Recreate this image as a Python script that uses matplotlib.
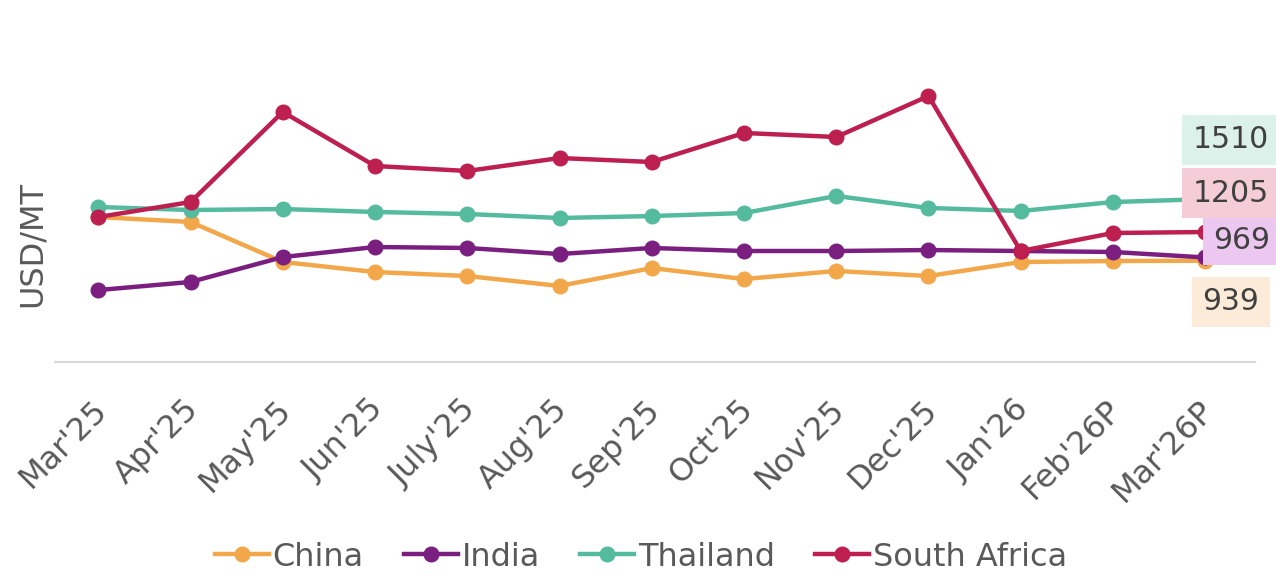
import matplotlib
matplotlib.use("Agg")
import matplotlib.pyplot as plt
from matplotlib.transforms import ScaledTranslation

months = ["Mar'25", "Apr'25", "May'25", "Jun'25", "July'25", "Aug'25", "Sep'25",
          "Oct'25", "Nov'25", "Dec'25", "Jan'26", "Feb'26P", "Mar'26P"]
china = [1344, 1298, 927, 834, 797, 705, 871, 769, 844, 797, 927, 936, 939]
india = [667, 742, 973, 1066, 1057, 1001, 1057, 1029, 1029, 1038, 1029, 1020, 969]
thailand = [1437, 1409, 1418, 1391, 1372, 1335, 1353, 1381, 1539, 1428, 1400, 1483, 1510]
south_africa = [1344, 1483, 2318, 1817, 1771, 1891, 1854, 2123, 2086, 2466, 1029, 1196, 1205]

series_names = ["China", "India", "Thailand", "South Africa"]
series_vals = [china, india, thailand, south_africa]
colors = ["#F2A84A", "#7A1F7F", "#55BB9F", "#BC1F50"]
label_bg = ["#FCEBD9", "#ECC8F0", "#DCF1EA", "#F5CDD9"]

W, H = 1276, 576
plt.rcParams['font.family'] = ['DejaVu Sans']
fig = plt.figure(figsize=(W / 100, H / 100), dpi=100)
ax = fig.add_axes([55 / W, 1 - 362 / H, 1200 / W, 323.6 / H])

x = list(range(len(months)))
handles = []
for name, vals, c in zip(series_names, series_vals, colors):
    h, = ax.plot(x, vals, color=c, lw=3.2, marker='o', markersize=10.5,
                 label=name, solid_joinstyle='round', clip_on=False)
    handles.append(h)

ax.set_xlim(-0.47, 12.54)
ax.set_ylim(0, 3000)
for s in ['top', 'right', 'left']:
    ax.spines[s].set_visible(False)
ax.spines['bottom'].set_color('#D9D9D9')
ax.spines['bottom'].set_linewidth(1.5)
ax.set_yticks([])
ax.set_xticks(x)
ax.set_xticklabels(months, rotation=45, ha='right', va='center',
                   rotation_mode='anchor', fontsize=23, color='#595959')
ax.tick_params(axis='x', length=0, pad=31)
offset = ScaledTranslation(4 / 100, 0, fig.dpi_scale_trans)
for lbl in ax.get_xticklabels():
    lbl.set_transform(lbl.get_transform() + offset)

fig.text(32 / W, 1 - 244 / H, 'USD/MT', rotation=90, fontsize=23,
         color='#595959', ha='center', va='center')

# end-value labels
pos = {  # pixel centres
    "Thailand": (1231, 140),
    "South Africa": (1231, 193),
    "India": (1242, 240),
    "China": (1231, 302),
}
for name, vals, bg in zip(series_names, series_vals, label_bg):
    px, py = pos[name]
    fig.text(px / W, 1 - py / H, f"{vals[-1]}", fontsize=21.5, color='#404040',
             ha='center', va='center',
             bbox=dict(boxstyle='square,pad=0.35', fc=bg, ec='none'))

# small leader line for India label
ax.annotate('', xy=(x[-1], india[-1]), xytext=(1224 / W, 1 - 246 / H),
            textcoords='figure fraction',
            arrowprops=dict(arrowstyle='-', color='#A6A6A6', lw=1.2,
                            shrinkA=0, shrinkB=4))

fig.legend(handles=handles, labels=series_names, loc='center',
           bbox_to_anchor=(641 / W, 1 - 557 / H), ncol=4, frameon=False,
           fontsize=23, labelcolor='#595959', handlelength=1.7,
           handletextpad=0.12, columnspacing=1.25)

fig.savefig('out.png', dpi=100)
